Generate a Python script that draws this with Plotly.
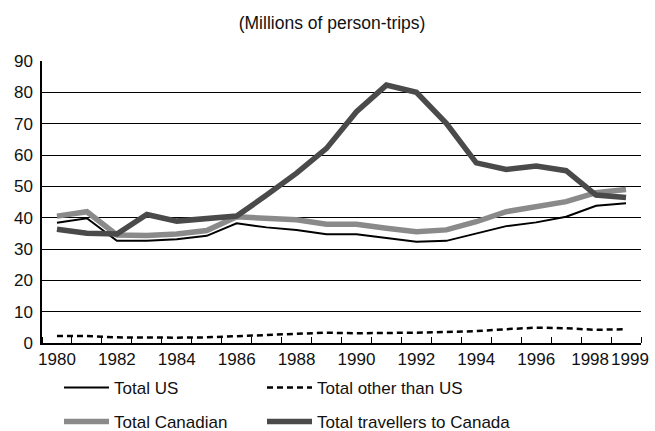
import plotly.graph_objects as go

# Annual person-trips, millions
years = list(range(1980, 2000))
total_us = [38.4, 39.8, 32.6, 32.6, 33.1, 34.2, 38.2, 36.9, 36.1, 34.7,
            34.7, 33.4, 32.3, 32.6, 35.0, 37.3, 38.5, 40.3, 43.8, 44.6]
total_other = [2.2, 2.2, 1.8, 1.7, 1.7, 1.8, 2.2, 2.7, 3.1, 3.3,
               3.1, 3.1, 3.3, 3.5, 3.8, 4.4, 4.9, 4.7, 4.2, 4.4]
total_canadian = [40.5, 41.9, 34.5, 34.3, 34.8, 35.9, 40.3, 39.6, 39.3, 37.9,
                  37.9, 36.6, 35.5, 36.1, 38.7, 41.9, 43.5, 45.1, 48.0, 49.0]
total_travellers = [36.3, 35.0, 34.8, 41.0, 38.9, 39.8, 40.5, 47.2, 54.2, 62.1,
                    73.8, 82.3, 80.0, 70.1, 57.5, 55.4, 56.5, 55.0, 47.2, 46.4]

x_tick_years = [1980, 1982, 1984, 1986, 1988, 1990, 1992, 1994, 1996, 1998, 1999]
x_tick_text = [str(v) for v in x_tick_years]
y_tick_vals = list(range(0, 100, 10))

# the last two labels sit one year apart, so spread them a little to keep them apart
label_nudge = {1998: -0.2, 1999: 0.13}
x_tick_pos = [v + label_nudge.get(v, 0) for v in x_tick_years]

FONT = "Liberation Sans, Arial, sans-serif"
INK = "#111111"

series = [
    ("Total US", total_us, dict(color="#000000", width=2), "legend"),
    ("Total other than US", total_other, dict(color="#000000", width=2.5, dash="6px,4px"), "legend2"),
    ("Total Canadian", total_canadian, dict(color="#8a8a8a", width=5.5), "legend3"),
    ("Total travellers to Canada", total_travellers, dict(color="#4a4a4a", width=5.5), "legend4"),
]

fig = go.Figure()
for name, values, line, leg in series:
    fig.add_trace(go.Scatter(x=years, y=values, mode="lines", name=name,
                             line=line, legend=leg, showlegend=True))


def legend_box(x_px, y_px):
    return dict(x=x_px / 655, y=1 - y_px / 431, xref="container", yref="container",
                xanchor="left", yanchor="middle", orientation="h",
                bgcolor="rgba(0,0,0,0)", itemwidth=45,
                font=dict(family=FONT, size=17, color=INK))


fig.update_layout(
    width=655, height=431,
    showlegend=True,
    margin=dict(l=42, r=14, t=61, b=88, autoexpand=False),
    paper_bgcolor="white", plot_bgcolor="white",
    font=dict(family=FONT, size=17, color=INK),
    title=dict(text="(Millions of person-trips)", x=0.507, xanchor="center",
               y=0.948, yanchor="middle", font=dict(family=FONT, size=17.5, color=INK)),
    xaxis=dict(range=[1979.5, 1999.5], tickmode="array", tickvals=x_tick_pos,
               ticktext=x_tick_text, ticks="", tickangle=0, automargin=False,
               showgrid=False, zeroline=False,
               showline=True, linecolor="#000000", linewidth=1.5,
               tickfont=dict(family=FONT, size=17, color=INK),
               minor=dict(tickmode="linear", tick0=1979.5, dtick=1, ticks="inside",
                          ticklen=6, tickwidth=1, tickcolor="#000000", showgrid=False)),
    yaxis=dict(range=[0, 90], tickmode="array", tickvals=y_tick_vals, ticks="",
               automargin=False, showgrid=True, gridcolor="#000000", gridwidth=1,
               zeroline=False, showline=True, linecolor="#000000", linewidth=1.5,
               ticklabelstandoff=4, tickfont=dict(family=FONT, size=17, color=INK)),
    legend=legend_box(59, 388),
    legend2=legend_box(262, 388),
    legend3=legend_box(59, 422),
    legend4=legend_box(262, 422),
)

fig.write_html("out.html")
